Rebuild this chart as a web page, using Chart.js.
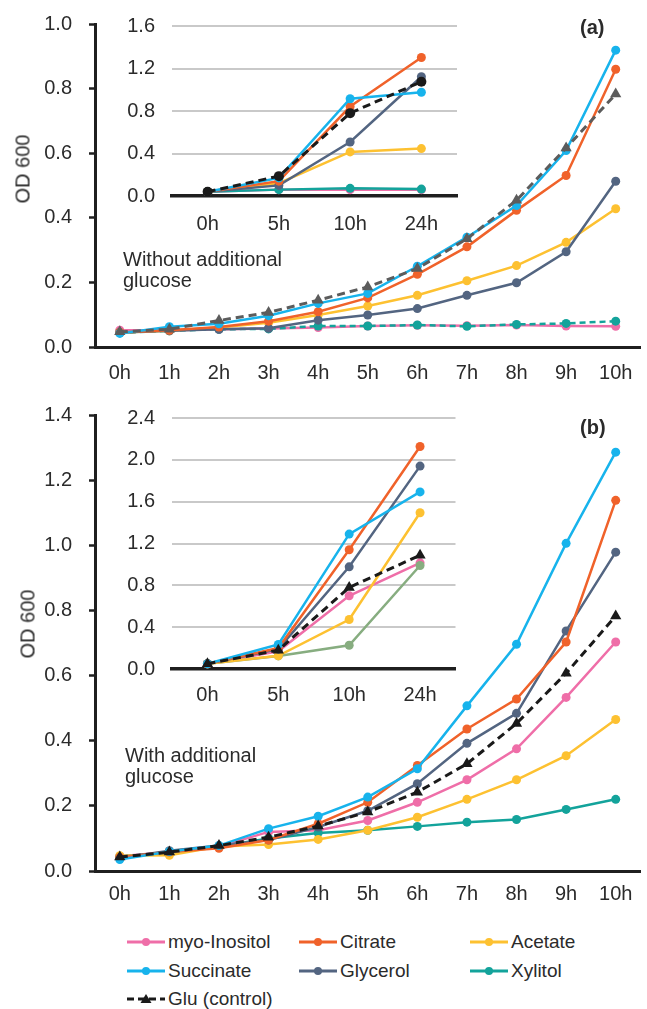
<!DOCTYPE html>
<html>
<head>
<meta charset="utf-8">
<script src="https://cdn.jsdelivr.net/npm/chart.js@4.4.1/dist/chart.umd.min.js"></script>
<style>
  body { margin: 0; background: #fff; }
  #page { position: relative; width: 647px; height: 1009px; overflow: hidden; font-family: "Liberation Sans", Arial, sans-serif; color: #2b2b2b; }
  #page canvas { position: absolute; }
  .note { position: absolute; font-size: 20px; line-height: 21px; white-space: nowrap; }
  .tag { position: absolute; font-size: 20px; line-height: 20px; font-weight: bold; }
  .ylab { position: absolute; font-size: 20px; white-space: nowrap; transform: translate(-50%, -50%) rotate(-90deg); }
  .lg { position: absolute; display: flex; align-items: center; height: 24px; font-size: 19px; white-space: nowrap; }
  .lg svg { margin-right: 2px; }
</style>
</head>
<body>
<div id="page">
  <canvas id="mainA" width="647" height="395" style="left:0;top:-5px"></canvas>
  <canvas id="insetA" width="352" height="243" style="left:110px;top:-3px"></canvas>
  <canvas id="mainB" width="647" height="529" style="left:0;top:386px"></canvas>
  <canvas id="insetB" width="352" height="326" style="left:110px;top:389px"></canvas>

  <div class="ylab" style="left:23px;top:169px">OD 600</div>
  <div class="ylab" style="left:28px;top:624px">OD 600</div>
  <div class="tag" style="left:580px;top:17px">(a)</div>
  <div class="tag" style="left:580px;top:417px">(b)</div>
  <div class="note" style="left:123px;top:249px">Without additional<br>glucose</div>
  <div class="note" style="left:125px;top:745px">With additional<br>glucose</div>
  <div id="legend"></div>
</div>
<script>
// sampling times
const hoursMain = ['0h', '1h', '2h', '3h', '4h', '5h', '6h', '7h', '8h', '9h', '10h'];
const hoursInset = ['0h', '5h', '10h', '24h'];

const seriesNames = ['myo-Inositol', 'Citrate', 'Acetate', 'Succinate', 'Glycerol', 'Xylitol', 'Glu (control)'];
const seriesColors = ['#ef6ea8', '#f0622a', '#fdc131', '#17b3ec', '#536581', '#13a39b', '#1a1a1a'];

// (a) without additional glucose, 0-10 h
const myoA = [0.052, 0.052, 0.055, 0.057, 0.060, 0.065, 0.067, 0.066, 0.068, 0.065, 0.064];
const citA = [0.045, 0.052, 0.062, 0.080, 0.109, 0.152, 0.225, 0.310, 0.423, 0.531, 0.860];
const aceA = [0.045, 0.050, 0.060, 0.075, 0.099, 0.127, 0.160, 0.205, 0.252, 0.324, 0.428];
const sucA = [0.042, 0.063, 0.072, 0.097, 0.135, 0.166, 0.250, 0.340, 0.438, 0.608, 0.919];
const glyA = [0.045, 0.050, 0.055, 0.058, 0.083, 0.099, 0.119, 0.160, 0.199, 0.295, 0.513];
const xylA = [0.044, 0.050, 0.055, 0.056, 0.065, 0.065, 0.068, 0.064, 0.070, 0.073, 0.080];
const gluA = [0.047, 0.055, 0.082, 0.107, 0.145, 0.186, 0.243, 0.335, 0.454, 0.616, 0.783];

// (a) inset, 0-24 h
const myoAi = [0.040, 0.060, 0.060, 0.060];
const citAi = [0.040, 0.140, 0.842, 1.303];
const aceAi = [0.040, 0.120, 0.415, 0.446];
const sucAi = [0.040, 0.170, 0.915, 0.976];
const glyAi = [0.040, 0.100, 0.508, 1.122];
const xylAi = [0.040, 0.060, 0.072, 0.065];
const gluAi = [0.040, 0.187, 0.780, 1.076];

// (b) with additional glucose, 0-10 h
const myoB = [0.045, 0.058, 0.075, 0.120, 0.125, 0.155, 0.211, 0.280, 0.375, 0.533, 0.703];
const citB = [0.042, 0.058, 0.070, 0.095, 0.145, 0.211, 0.324, 0.436, 0.528, 0.703, 1.138];
const aceB = [0.047, 0.048, 0.075, 0.081, 0.097, 0.125, 0.165, 0.220, 0.280, 0.354, 0.465];
const sucB = [0.035, 0.060, 0.078, 0.130, 0.168, 0.227, 0.314, 0.507, 0.696, 1.006, 1.286];
const glyB = [0.040, 0.062, 0.078, 0.095, 0.135, 0.185, 0.268, 0.392, 0.484, 0.737, 0.979];
const xylB = [0.045, 0.055, 0.075, 0.100, 0.117, 0.125, 0.137, 0.150, 0.158, 0.189, 0.220];
const gluB = [0.043, 0.058, 0.078, 0.104, 0.138, 0.181, 0.242, 0.329, 0.453, 0.607, 0.783];

// (b) inset, 0-24 h
const myoBi = [0.050, 0.170, 0.700, 1.015];
const citBi = [0.050, 0.200, 1.140, 2.128];
const aceBi = [0.050, 0.126, 0.473, 1.494];
const sucBi = [0.050, 0.234, 1.290, 1.693];
const glyBi = [0.050, 0.190, 0.977, 1.940];
const xylBi = [0.050, 0.125, 0.227, 0.990];
const gluBi = [0.050, 0.180, 0.780, 1.088];

const axisColor = '#1f1f1f';
const textColor = '#2b2b2b';
// lower = drawn on top
const drawOrder = [6, 2, 4, 1, 3, 5, 0];

Chart.defaults.font.family = '"Liberation Sans", Arial, sans-serif';

const lineSet = (i, data, extra) => Object.assign({
    label: seriesNames[i],
    data: data,
    borderColor: seriesColors[i],
    backgroundColor: seriesColors[i],
    borderWidth: 2.5,
    pointRadius: 4.5,
    pointHoverRadius: 4.5,
    pointBorderWidth: 0,
    tension: 0,
    fill: false,
    order: drawOrder[i]
}, extra || {});

const buildSets = (groups, overrides) =>
    groups.map((d, i) => lineSet(i, d, overrides[i]));

const tickFont = { size: 20 };

// top of the plot ends up at label half-height + tick padding below the canvas top,
// so the canvases are placed to put the axes where they belong
const mainOptions = (yMax, xHeight, xPad) => ({
    responsive: false,
    animation: false,
    layout: { padding: { top: 0, right: 2, left: 0, bottom: 0 } },
    plugins: { legend: { display: false }, tooltip: { enabled: false } },
    scales: {
        x: {
            offset: true,
            grid: { display: false },
            border: { color: axisColor, width: 3 },
            ticks: { color: textColor, font: tickFont, padding: xPad, maxRotation: 0 },
            afterFit: (s) => { s.height = xHeight; }
        },
        y: {
            min: 0,
            max: yMax,
            grid: { drawOnChartArea: false, tickLength: 6, tickWidth: 2.5, tickColor: axisColor },
            border: { color: axisColor, width: 3 },
            ticks: { stepSize: 0.2, color: textColor, font: tickFont, padding: 17, callback: (v) => v.toFixed(1) },
            afterFit: (s) => { s.width = 95; }
        }
    }
});

const insetOptions = (yMax, xHeight, xPad) => ({
    responsive: false,
    animation: false,
    layout: { padding: { top: 0, right: 3, left: 0, bottom: 0 } },
    plugins: { legend: { display: false }, tooltip: { enabled: false } },
    scales: {
        x: {
            offset: true,
            grid: { display: false },
            border: { color: axisColor, width: 3.5 },
            ticks: { color: textColor, font: tickFont, padding: xPad, maxRotation: 0 },
            afterFit: (s) => { s.height = xHeight; }
        },
        y: {
            min: 0,
            max: yMax,
            grid: {
                drawTicks: false,
                color: (ctx) => (ctx.tick.value === 0 ? 'rgba(0,0,0,0)' : '#c9c9c9'),
                lineWidth: 2
            },
            border: { display: false },
            ticks: { stepSize: 0.4, color: textColor, font: tickFont, padding: 17, callback: (v) => v.toFixed(1) },
            afterFit: (s) => { s.width = 62; }
        }
    }
});

const gluDash = { borderDash: [8, 5], borderWidth: 3, pointStyle: 'triangle', pointRadius: 6.5, pointHoverRadius: 6.5 };

new Chart(document.getElementById('mainA'), {
    type: 'line',
    data: {
        labels: hoursMain,
        datasets: buildSets([myoA, citA, aceA, sucA, glyA, xylA, gluA], {
            5: { borderDash: [6, 4] },
            6: Object.assign({}, gluDash, { borderColor: '#5c5c5c', backgroundColor: '#5c5c5c' })
        })
    },
    options: mainOptions(1.0, 43, 6)
});

new Chart(document.getElementById('insetA'), {
    type: 'line',
    data: {
        labels: hoursInset,
        datasets: buildSets([myoAi, citAi, aceAi, sucAi, glyAi, xylAi, gluAi], {
            6: { borderDash: [8, 5], borderWidth: 3, pointRadius: 5, pointHoverRadius: 5 }
        })
    },
    options: insetOptions(1.6, 44, 8)
});

new Chart(document.getElementById('mainB'), {
    type: 'line',
    data: {
        labels: hoursMain,
        datasets: buildSets([myoB, citB, aceB, sucB, glyB, xylB, gluB], { 6: gluDash })
    },
    options: mainOptions(1.4, 44, 3)
});

new Chart(document.getElementById('insetB'), {
    type: 'line',
    data: {
        labels: hoursInset,
        datasets: buildSets([myoBi, citBi, aceBi, sucBi, glyBi, xylBi, gluBi], {
            5: { borderColor: '#87ad80', backgroundColor: '#87ad80' },
            6: gluDash
        })
    },
    options: insetOptions(2.4, 46, 6)
});

// legend: three columns, line + marker sample then name
const legendCols = [126, 298, 469];
const legendRows = [942, 971, 999];
const legend = document.getElementById('legend');
seriesNames.forEach((name, i) => {
    const col = legendCols[i % 3];
    const row = legendRows[Math.floor(i / 3)];
    const c = seriesColors[i];
    const isGlu = i === 6;
    const marker = isGlu
        ? `<polygon points="20,2 25.5,11 14.5,11" fill="${c}"/>`
        : `<circle cx="20" cy="7" r="4" fill="${c}"/>`;
    const dash = isGlu ? ' stroke-dasharray="7,4"' : '';
    const item = document.createElement('div');
    item.className = 'lg';
    item.style.left = col + 'px';
    item.style.top = (row - 12) + 'px';
    item.innerHTML = `<svg width="40" height="14"><line x1="1" y1="7" x2="39" y2="7" stroke="${c}" stroke-width="3"${dash}/>${marker}</svg><span>${name}</span>`;
    legend.appendChild(item);
});
</script>
</body>
</html>
